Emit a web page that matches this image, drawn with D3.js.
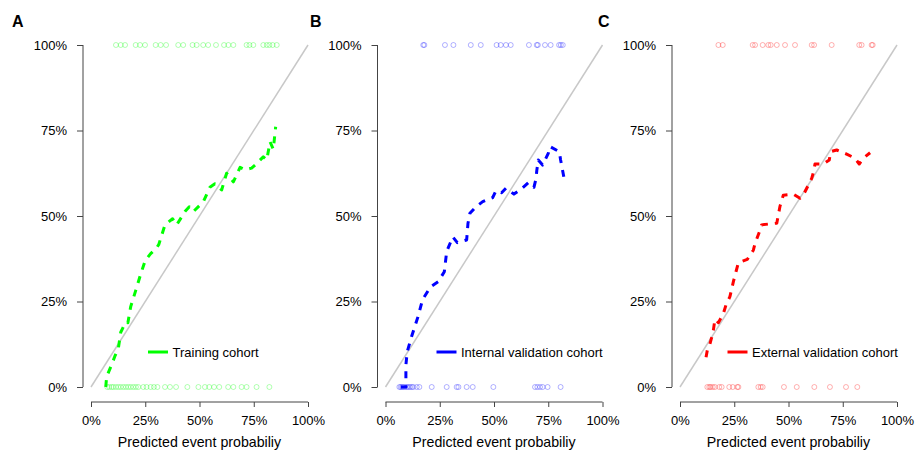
<!DOCTYPE html>
<html>
<head>
<meta charset="utf-8">
<script src="https://cdn.jsdelivr.net/npm/d3@7"></script>
<style>
  html, body { margin: 0; padding: 0; background: #fff; }
  svg { display: block; font-family: "Liberation Sans", Arial, sans-serif; }
</style>
</head>
<body>
<svg id="chart" width="919" height="452"></svg>
<script>
// Calibration curves: observed vs predicted event probability
const tickValues = [0, 0.25, 0.5, 0.75, 1];
const tickLabels = ["0%", "25%", "50%", "75%", "100%"];
const panelLetters = ["A", "B", "C"];
const cohortNames = ["Training cohort", "Internal validation cohort", "External validation cohort"];
const cohortColors = ["#00ff00", "#0000ff", "#ff0000"];

// Training cohort
const trainX = [0.068,0.072,0.095,0.11,0.126,0.137,0.16,0.17,0.183,0.207,0.23,0.25,0.275,0.30,0.312,0.341,0.376,0.395,0.433,0.453,0.472,0.518,0.548,0.571,0.602,0.625,0.656,0.687,0.71,0.74,0.756,0.794,0.81,0.825,0.84,0.851];
const trainY = [0.0,0.03,0.065,0.09,0.113,0.16,0.19,0.188,0.235,0.284,0.332,0.37,0.39,0.405,0.416,0.474,0.492,0.474,0.513,0.527,0.513,0.542,0.584,0.594,0.576,0.625,0.60,0.642,0.635,0.640,0.649,0.673,0.664,0.717,0.695,0.761];
const trainEvents = [0.115,0.137,0.157,0.206,0.226,0.249,0.298,0.321,0.346,0.402,0.425,0.468,0.487,0.517,0.540,0.576,0.613,0.633,0.656,0.717,0.730,0.748,0.794,0.810,0.822,0.837,0.856];
const trainNonEvents = [0.075,0.084,0.095,0.103,0.115,0.126,0.137,0.149,0.161,0.172,0.183,0.195,0.207,0.218,0.241,0.256,0.275,0.290,0.306,0.341,0.364,0.392,0.444,0.495,0.525,0.545,0.567,0.591,0.632,0.656,0.694,0.717,0.763,0.822];

// Internal validation cohort
const internalX = [0.070,0.094,0.094,0.100,0.121,0.150,0.171,0.208,0.243,0.271,0.282,0.310,0.331,0.374,0.380,0.389,0.417,0.448,0.494,0.509,0.535,0.555,0.592,0.620,0.658,0.684,0.694,0.697,0.704,0.724,0.750,0.758,0.801,0.807,0.823];
const internalY = [0.0,0.0,0.064,0.103,0.149,0.206,0.256,0.293,0.308,0.337,0.396,0.439,0.422,0.430,0.478,0.508,0.527,0.542,0.554,0.574,0.568,0.581,0.564,0.576,0.597,0.584,0.610,0.632,0.664,0.649,0.683,0.703,0.688,0.664,0.610];
const internalEvents = [0.174,0.179,0.274,0.313,0.393,0.439,0.512,0.531,0.555,0.577,0.661,0.697,0.702,0.735,0.761,0.800,0.808,0.817];
const internalNonEvents = [0.064,0.070,0.076,0.082,0.090,0.098,0.105,0.113,0.121,0.128,0.144,0.156,0.213,0.282,0.328,0.336,0.374,0.402,0.497,0.689,0.700,0.712,0.724,0.747,0.807];

// External validation cohort
const externalX = [0.120,0.126,0.138,0.146,0.154,0.161,0.177,0.200,0.212,0.230,0.246,0.258,0.269,0.310,0.338,0.346,0.369,0.376,0.415,0.446,0.461,0.476,0.522,0.553,0.576,0.607,0.618,0.622,0.660,0.688,0.694,0.722,0.768,0.806,0.826,0.845,0.876];
const externalY = [0.087,0.108,0.126,0.145,0.167,0.198,0.188,0.215,0.240,0.264,0.308,0.337,0.363,0.373,0.400,0.420,0.459,0.474,0.477,0.479,0.529,0.561,0.564,0.552,0.571,0.610,0.635,0.652,0.652,0.664,0.688,0.693,0.681,0.669,0.652,0.669,0.685];
const externalEvents = [0.177,0.197,0.335,0.346,0.381,0.407,0.418,0.446,0.484,0.530,0.607,0.618,0.699,0.826,0.837,0.883,0.888];
const externalNonEvents = [0.126,0.135,0.141,0.151,0.161,0.181,0.192,0.227,0.243,0.264,0.269,0.361,0.372,0.381,0.479,0.538,0.619,0.691,0.765,0.817];

const panels = [
  { x: trainX, y: trainY, top: trainEvents, bottom: trainNonEvents },
  { x: internalX, y: internalY, top: internalEvents, bottom: internalNonEvents },
  { x: externalX, y: externalY, top: externalEvents, bottom: externalNonEvents }
];
const letterX = [12, 310, 598];
const legendOffset = [65, 59, 55.5];

const svg = d3.select("#chart");
const yTop = 45, yBottom = 387, xAxisY = 402;

panels.forEach((p, i) => {
  const ox = 83 + i * 294.5;
  const color = cohortColors[i];
  const x = d3.scaleLinear().domain([0, 1]).range([ox + 8, ox + 225]);
  const y = d3.scaleLinear().domain([0, 1]).range([yBottom, yTop]);
  const g = svg.append("g");

  // panel letter
  g.append("text").attr("x", letterX[i]).attr("y", 27)
    .attr("font-size", 16).attr("font-weight", "bold").attr("fill", "#000")
    .text(panelLetters[i]);

  // y axis
  const yAxis = d3.axisLeft(y).tickValues(tickValues)
    .tickFormat((d, k) => tickLabels[k]).tickSize(6).tickPadding(10);
  const ya = g.append("g").attr("transform", `translate(${ox},0)`).call(yAxis);
  // x axis
  const xAxis = d3.axisBottom(x).tickValues(tickValues)
    .tickFormat((d, k) => tickLabels[k]).tickSize(5).tickPadding(9);
  const xa = g.append("g").attr("transform", `translate(0,${xAxisY})`).call(xAxis);
  [ya, xa].forEach(a => {
    a.select(".domain").remove();
    a.selectAll("line").attr("stroke", "#444");
    a.selectAll("text").attr("font-size", 13).attr("fill", "#000")
      .attr("font-family", "'Liberation Sans', Arial, sans-serif");
  });
  g.append("line").attr("x1", ox).attr("x2", ox).attr("y1", y(0)).attr("y2", y(1))
    .attr("stroke", "#444");
  g.append("line").attr("x1", x(0)).attr("x2", x(1)).attr("y1", xAxisY).attr("y2", xAxisY)
    .attr("stroke", "#444");

  // x axis title
  g.append("text").attr("x", x(0.5)).attr("y", 446.5).attr("text-anchor", "middle")
    .attr("font-size", 14.2).attr("fill", "#000").text("Predicted event probabiliy");

  // ideal diagonal
  g.append("line").attr("x1", x(0)).attr("y1", y(0)).attr("x2", x(1)).attr("y2", y(1))
    .attr("stroke", "#c8c8c8").attr("stroke-width", 1.5);

  // rug of outcomes
  g.selectAll(null).data(p.top).enter().append("circle")
    .attr("cx", d => x(d)).attr("cy", y(1)).attr("r", 2.5)
    .attr("fill", "none").attr("stroke", color).attr("stroke-opacity", 0.3);
  g.selectAll(null).data(p.bottom).enter().append("circle")
    .attr("cx", d => x(d)).attr("cy", y(0)).attr("r", 2.5)
    .attr("fill", "none").attr("stroke", color).attr("stroke-opacity", 0.3);

  // calibration curve
  const pts = p.x.map((v, k) => [v, p.y[k]]);
  g.append("path").datum(pts)
    .attr("d", d3.line().x(d => x(d[0])).y(d => y(d[1])))
    .attr("fill", "none").attr("stroke", color).attr("stroke-width", 3)
    .attr("stroke-dasharray", "7,7").attr("stroke-linejoin", "round");

  // legend
  const lx = ox + legendOffset[i], ly = 352;
  g.append("line").attr("x1", lx).attr("x2", lx + 20).attr("y1", ly).attr("y2", ly)
    .attr("stroke", color).attr("stroke-width", 3);
  g.append("text").attr("x", lx + 24.5).attr("y", ly).attr("dy", "0.35em")
    .attr("font-size", 13).attr("fill", "#000").text(cohortNames[i]);
});
</script>
</body>
</html>
